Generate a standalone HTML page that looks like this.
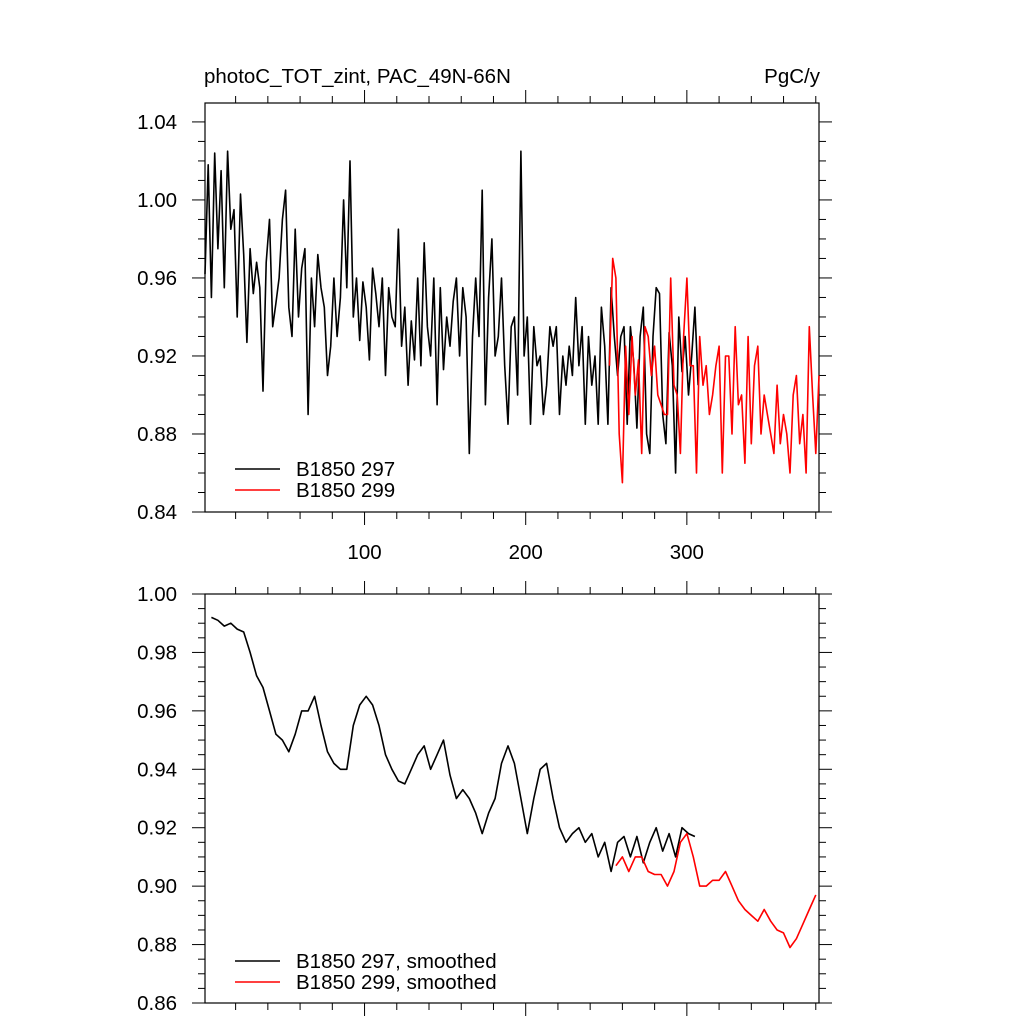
<!DOCTYPE html>
<html><head><meta charset="utf-8"><style>
html,body{margin:0;padding:0;background:#fff}
svg{display:block;font-family:"Liberation Sans",sans-serif}
</style></head><body>
<svg id="c" width="1024" height="1024" viewBox="0 0 1024 1024"></svg>
<script>
const rawBlackStart = 1, rawStep = 2;
const rawBlack = [0.962,1.018,0.95,1.024,0.975,1.015,0.955,1.025,0.985,0.995,0.94,1.003,0.972,0.927,0.975,0.952,0.968,0.955,0.902,0.968,
0.99,0.935,0.947,0.96,0.99,1.005,0.945,0.93,0.985,0.94,0.965,0.975,0.89,0.96,0.935,0.972,0.955,0.945,0.91,0.925,
0.96,0.93,0.95,1.0,0.955,1.02,0.94,0.96,0.928,0.958,0.945,0.918,0.965,0.952,0.935,0.96,0.91,0.955,0.94,0.935,
0.985,0.925,0.945,0.905,0.938,0.918,0.96,0.915,0.978,0.935,0.92,0.96,0.895,0.955,0.913,0.94,0.925,0.948,0.96,0.92,
0.955,0.94,0.87,0.93,0.96,0.93,1.005,0.895,0.95,0.98,0.92,0.93,0.96,0.915,0.885,0.935,0.94,0.9,1.025,0.92,
0.94,0.885,0.935,0.915,0.92,0.89,0.905,0.935,0.925,0.935,0.89,0.92,0.905,0.925,0.91,0.95,0.915,0.935,0.885,0.93,
0.905,0.92,0.885,0.945,0.925,0.885,0.955,0.93,0.91,0.93,0.935,0.885,0.935,0.917,0.883,0.93,0.945,0.88,0.87,0.93,
0.955,0.952,0.89,0.875,0.932,0.915,0.86,0.94,0.912,0.93,0.9,0.92,0.945,0.905];
const rawRedStart = 252;
const rawRed = [0.915,0.97,0.96,0.88,0.855,0.925,0.89,0.93,0.9,0.918,0.87,0.935,0.93,0.91,0.925,0.9,0.895,0.89,0.89,0.96,
0.905,0.9,0.87,0.93,0.96,0.915,0.915,0.86,0.93,0.905,0.915,0.89,0.9,0.915,0.925,0.86,0.92,0.92,0.88,0.935,
0.895,0.9,0.865,0.93,0.875,0.915,0.925,0.88,0.9,0.89,0.88,0.87,0.905,0.875,0.89,0.88,0.86,0.9,0.91,0.875,
0.89,0.86,0.935,0.9,0.87,0.91];
const smBlackStart = 5, smStep = 4;
const smBlack = [0.992,0.991,0.989,0.990,0.988,0.987,0.98,0.972,0.968,0.96,0.952,0.95,0.946,0.952,0.96,0.96,0.965,0.955,0.946,0.942,
0.94,0.94,0.955,0.962,0.965,0.962,0.955,0.945,0.94,0.936,0.935,0.94,0.945,0.948,0.94,0.945,0.95,0.938,0.93,0.933,
0.93,0.925,0.918,0.925,0.93,0.942,0.948,0.942,0.93,0.918,0.93,0.94,0.942,0.93,0.92,0.915,0.918,0.92,0.915,0.918,
0.91,0.915,0.905,0.915,0.917,0.91,0.917,0.908,0.915,0.92,0.912,0.918,0.91,0.92,0.918,0.917];
const smRedStart = 256;
const smRed = [0.907,0.91,0.905,0.91,0.91,0.905,0.904,0.904,0.9,0.905,0.915,0.918,0.91,0.9,0.9,0.902,0.902,0.905,0.9,0.895,
0.892,0.89,0.888,0.892,0.888,0.885,0.884,0.879,0.882,0.887,0.892,0.897];
const topYTicks = ["0.84","0.88","0.92","0.96","1.00","1.04"];
const botYTicks = ["0.86","0.88","0.90","0.92","0.94","0.96","0.98","1.00"];
const xTicks = ["100","200","300"];

const svg = document.getElementById('c');
const NS = 'http://www.w3.org/2000/svg';
const FS = 20.5;
function mk(tag, attrs, parent){const e=document.createElementNS(NS,tag);for(const k in attrs)e.setAttribute(k,attrs[k]);(parent||svg).appendChild(e);return e;}
const X0=205,X1=819,XMIN=1,XMAX=382;
const xs = v => X0+(v-XMIN)/(XMAX-XMIN)*(X1-X0);

function panel(name, top, bot, ymin, ymax, minorStep, labels, showX){
  const g = mk('g',{});
  
  
  const ys = v => bot-(v-ymin)/(ymax-ymin)*(bot-top);
  const fr = mk('rect',{x:X0,y:top,width:X1-X0,height:bot-top,fill:'none',stroke:'#000','stroke-width':1.2},g);
  
  
  for(let v=ymin; v<=ymax+1e-9; v+=minorStep){
    const y=ys(v); const major = labels.some(l=>Math.abs(parseFloat(l)-v)<1e-6);
    const L = major?13:7;
    mk('line',{x1:X0-L,x2:X0,y1:y,y2:y,stroke:'#000','stroke-width':1},g);
    mk('line',{x1:X1,x2:X1+L,y1:y,y2:y,stroke:'#000','stroke-width':1},g);
  }
  labels.forEach(l=>{
    const t=mk('text',{x:177,y:ys(parseFloat(l))+7,'text-anchor':'end','font-size':FS},g);
    t.textContent=l;
    
    
  });
  for(let v=20; v<=XMAX; v+=20){
    const x=xs(v); const major=v%100===0; const L=major?13:7;
    mk('line',{x1:x,x2:x,y1:top-L,y2:top,stroke:'#000','stroke-width':1},g);
    mk('line',{x1:x,x2:x,y1:bot,y2:bot+L,stroke:'#000','stroke-width':1},g);
  }
  if(showX) xTicks.forEach(l=>{
    const t=mk('text',{x:xs(parseFloat(l)),y:bot+47,'text-anchor':'middle','font-size':FS},g);
    t.textContent=l;
    
    
  });
  return {g,ys};
}
function line(p, arr, start, step, color, name){
  const pts = arr.map((v,i)=>xs(start+i*step).toFixed(1)+','+p.ys(v).toFixed(1)).join(' ');
  const e=mk('polyline',{points:pts,fill:'none',stroke:color,'stroke-width':1.6,'stroke-linejoin':'round'},p.g);
  
  
}
function legend(p, y, text, color){
  mk('line',{x1:235,x2:280,y1:y,y2:y,stroke:color,'stroke-width':1.6},p.g);
  const t=mk('text',{x:296,y:y+7,'font-size':FS},p.g);
  t.textContent=text;
  
  
}
const t1=mk('text',{x:204,y:83,'font-size':FS});
t1.textContent='photoC_TOT_zint, PAC_49N-66N';


const t2=mk('text',{x:820,y:83,'font-size':FS,'text-anchor':'end'});
t2.textContent='PgC/y';



const P1 = panel('raw-panel',103,512,0.84,1.0497,0.01,topYTicks,true);
line(P1, rawBlack, rawBlackStart, rawStep, '#000', 'series-b1850-297');
line(P1, rawRed, rawRedStart, rawStep, '#f00', 'series-b1850-299');
legend(P1,469,'B1850 297','#000');
legend(P1,490,'B1850 299','#f00');

const P2 = panel('smoothed-panel',594,1003,0.86,1.0,0.005,botYTicks,false);
line(P2, smBlack, smBlackStart, smStep, '#000', 'series-b1850-297-smoothed');
line(P2, smRed, smRedStart, smStep, '#f00', 'series-b1850-299-smoothed');
legend(P2,961,'B1850 297, smoothed','#000');
legend(P2,982,'B1850 299, smoothed','#f00');
</script>
</body></html>
